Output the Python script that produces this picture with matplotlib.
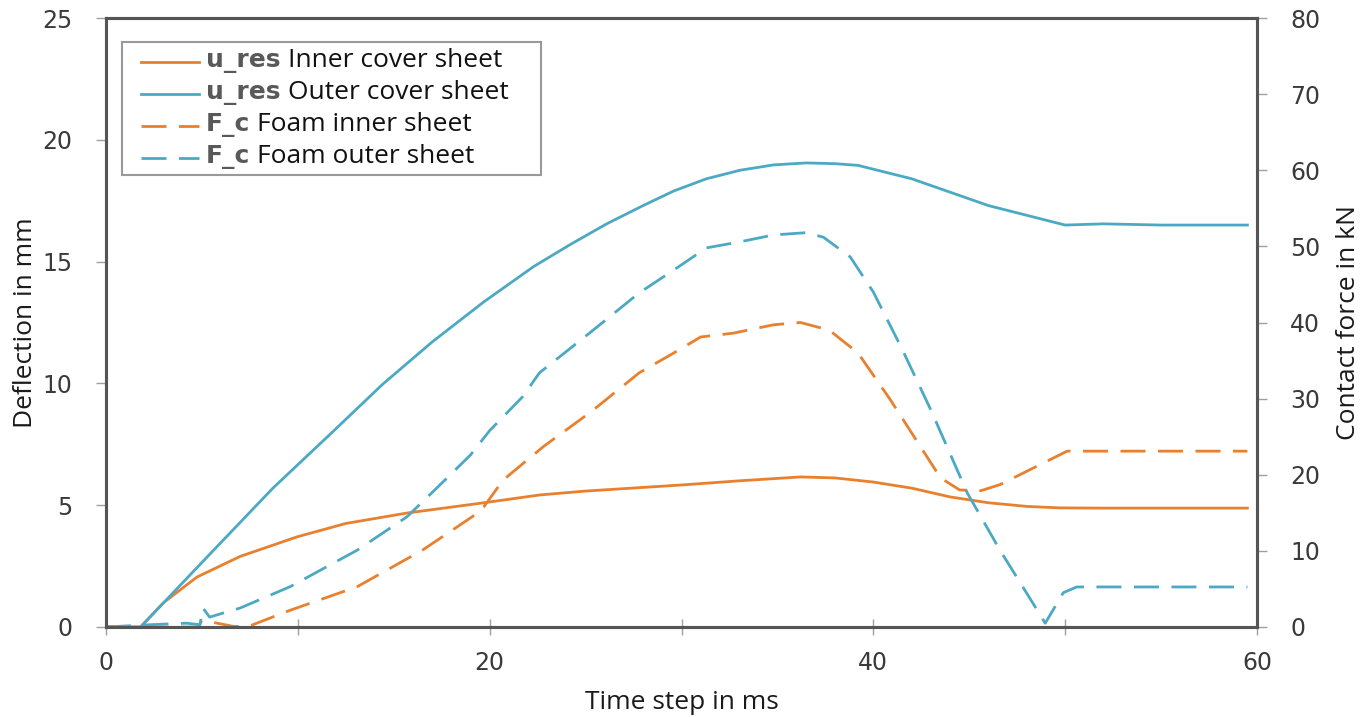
import matplotlib
matplotlib.use("Agg")
import matplotlib.pyplot as plt
from matplotlib.ticker import MultipleLocator
from matplotlib.lines import Line2D
from matplotlib.offsetbox import (AnchoredOffsetbox, DrawingArea, HPacker,
                                  TextArea, VPacker)

# 数据
# u_res 内层 (mm)
t_inner = [0, 1.8, 3.0, 4.74, 7.0, 9.96, 12.5, 15.7, 19.7, 22.6, 25.0, 30.0,
           33.0, 36.2, 38.0, 40.0, 42.0, 44.0, 46.0, 48.0, 49.7, 52.0, 59.5]
u_inner = [0, 0, 1.0, 2.05, 2.9, 3.7, 4.25, 4.68, 5.1, 5.42, 5.58, 5.83,
           6.0, 6.16, 6.12, 5.95, 5.7, 5.34, 5.1, 4.95, 4.89, 4.88, 4.88]

# u_res 外层 (mm)
t_outer = [0, 1.8, 5.0, 8.7, 11.8, 14.4, 17.0, 19.7, 22.3, 24.2, 26.1, 28.0,
           29.6, 31.3, 33.05, 34.8, 36.5, 38.0, 39.2, 42.0, 46.0, 50.0, 52.0,
           55.0, 59.5]
u_outer = [0, 0, 2.65, 5.7, 8.0, 9.95, 11.7, 13.35, 14.8, 15.7, 16.55, 17.3,
           17.9, 18.4, 18.75, 18.97, 19.05, 19.02, 18.95, 18.4, 17.3, 16.5,
           16.55, 16.5, 16.5]

# F_c 泡沫内层 (kN)
t_fi = [0, 4.8, 5.0, 6.6, 7.35, 9.6, 13.1, 16.5, 19.1, 19.7, 20.7, 22.8,
        25.3, 27.8, 29.6, 31.0, 32.7, 34.8, 36.2, 37.7, 39.2, 40.9, 43.5,
        44.5, 45.6, 46.6, 50.1, 55.0, 59.5]
f_fi = [0, 0, 0.9, 0.1, 0, 2.2, 5.3, 10.1, 14.5, 15.8, 19.3, 23.7,
        28.3, 33.4, 36.0, 38.1, 38.6, 39.7, 40.0, 39.0, 36.0, 29.8, 19.6,
        18.0, 17.9, 18.7, 23.1, 23.1, 23.1]

# F_c 泡沫外层 (kN)
t_fo = [0, 2.3, 4.2, 4.9, 5.05, 5.4, 7.0, 9.6, 13.1, 15.7, 17.3, 19.0, 20.0,
        21.7, 22.6, 25.2, 27.8, 29.6, 31.3, 33.05, 34.8, 36.5, 37.4, 38.8,
        40.0, 41.5, 43.0, 44.9, 46.6, 48.3, 48.96, 49.9, 50.6, 55.0, 59.5]
f_fo = [0, 0.3, 0.5, 0.3, 2.5, 1.3, 2.5, 5.3, 10.1, 14.5, 18.4, 22.6, 25.8,
        30.2, 33.4, 38.6, 43.9, 46.9, 49.8, 50.6, 51.5, 51.8, 51.2, 48.6,
        44.0, 36.5, 28.5, 17.6, 10.1, 3.2, 0.5, 4.5, 5.26, 5.26, 5.26]

legend_keys = ["u_res", "u_res", "F_c", "F_c"]
legend_names = ["Inner cover sheet", "Outer cover sheet",
                "Foam inner sheet", "Foam outer sheet"]

orange = "#E8802E"
blue = "#4CA9C4"
label_font = "Open Sans"
tick_font = "DejaVu Sans"

fig = plt.figure(figsize=(13.64, 7.17), dpi=100)
ax = fig.add_axes([106 / 1364, 1 - 627 / 717, 1151 / 1364, 609 / 717])
ax2 = ax.twinx()

lw = 2.0
dash = (0, (9, 4.5))
ax.plot(t_inner, u_inner, color=orange, lw=lw)
ax.plot(t_outer, u_outer, color=blue, lw=lw)
ax2.plot(t_fi, f_fi, color=orange, lw=lw, linestyle=dash)
ax2.plot(t_fo, f_fo, color=blue, lw=lw, linestyle=dash)

ax.set_xlim(0, 60)
ax.set_ylim(0, 25)
ax2.set_ylim(0, 80)

ax.xaxis.set_major_locator(MultipleLocator(20))
ax.xaxis.set_minor_locator(MultipleLocator(10))
ax.yaxis.set_major_locator(MultipleLocator(5))
ax2.yaxis.set_major_locator(MultipleLocator(10))

tick_col = "#3a3a3a"
for a in (ax, ax2):
    for s in a.spines.values():
        s.set_color("#555555")
        s.set_linewidth(2.2)
    a.tick_params(axis="both", which="both", direction="out", length=7,
                  width=1, color="#a0a0a0", labelcolor=tick_col,
                  labelsize=17, pad=17)
    for lab in a.get_xticklabels() + a.get_yticklabels():
        lab.set_fontfamily(tick_font)
ax.tick_params(axis="x", which="both", direction="inout", length=12, pad=11)

ax.set_xlabel("Time step in ms", fontfamily=label_font, fontsize=19,
              color="#1a1a1a", labelpad=11)
ax.set_ylabel("Deflection in mm", fontfamily=label_font, fontsize=19,
              color="#1a1a1a", labelpad=3)
ax2.set_ylabel("Contact force in kN", fontfamily=label_font, fontsize=19,
               color="#1a1a1a", labelpad=11)

# 图例：手动拼接两种字体
colors = [orange, blue, orange, blue]
styles = ["-", "-", dash, dash]
rows = []
for key, name, c, ls in zip(legend_keys, legend_names, colors, styles):
    gap = DrawingArea(4, 1, 0, 0)
    da = DrawingArea(42, 18, 0, 0)
    da.add_artist(Line2D([0, 42], [8, 8], color=c, lw=lw, linestyle=ls))
    k = TextArea(key, textprops=dict(family=tick_font, size=18,
                                     color="#595959", weight="bold"))
    n = TextArea(name, textprops=dict(family=label_font, size=19,
                                      color="#111111"))
    tail = DrawingArea(14, 1, 0, 0)
    rows.append(HPacker(children=[gap, da, k, n, tail], align="center",
                        pad=0, sep=5))
box = VPacker(children=rows, align="left", pad=0, sep=5)
anch = AnchoredOffsetbox(loc="upper left", child=box, pad=0.45, borderpad=0,
                         frameon=True, bbox_to_anchor=(0.014, 0.961),
                         bbox_transform=ax.transAxes)
anch.patch.set_boxstyle("square", pad=0)
anch.patch.set_edgecolor("#999999")
anch.patch.set_linewidth(1.5)
ax2.add_artist(anch)

fig.savefig("out.png", dpi=100)
